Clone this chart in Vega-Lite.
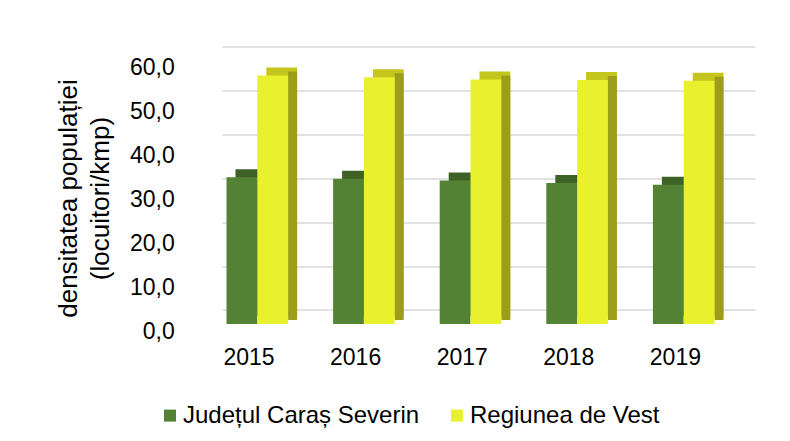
{
  "$schema": "https://vega.github.io/schema/vega-lite/v6.json",
  "autosize": {"type": "none"},
  "width": 533,
  "height": 263.4,
  "padding": {"left": 222, "top": 46.6, "right": 35, "bottom": 131},
  "background": "white",
  "config": {"view": {"stroke": null}, "font": "Liberation Sans"},
  "data": {
    "values": [
      {"year": "2015", "series": "Județul Caraș Severin", "value": 33.4},
      {"year": "2016", "series": "Județul Caraș Severin", "value": 33.1},
      {"year": "2017", "series": "Județul Caraș Severin", "value": 32.7},
      {"year": "2018", "series": "Județul Caraș Severin", "value": 32.1},
      {"year": "2019", "series": "Județul Caraș Severin", "value": 31.7},
      {"year": "2015", "series": "Regiunea de Vest", "value": 56.6},
      {"year": "2016", "series": "Regiunea de Vest", "value": 56.2},
      {"year": "2017", "series": "Regiunea de Vest", "value": 55.7},
      {"year": "2018", "series": "Regiunea de Vest", "value": 55.6},
      {"year": "2019", "series": "Regiunea de Vest", "value": 55.4}
    ]
  },
  "encoding": {
    "x": {
      "field": "year",
      "type": "nominal",
      "scale": {"paddingInner": 0.422, "paddingOuter": 0.211, "align": 0.1},
      "axis": {
        "title": null,
        "labelAngle": 0,
        "labelFontSize": 23,
        "labelColor": "#000000",
        "ticks": false,
        "domain": false,
        "grid": false,
        "labelPadding": 36,
        "labelOffset": -8.3
      }
    },
    "y": {
      "field": "value",
      "type": "quantitative",
      "scale": {"domain": [0, 60]},
      "axis": {
        "title": ["densitatea populației", "(locuitori/kmp)"],
        "values": [0, 10, 20, 30, 40, 50, 60],
        "labelExpr": "replace(format(datum.value, '.1f'), '.', ',')",
        "grid": true,
        "gridColor": "#d9d9d9",
        "gridWidth": 1.5,
        "ticks": false,
        "domain": false,
        "labelPadding": 47.7,
        "labelOffset": 21,
        "labelFontSize": 23,
        "labelColor": "#000000",
        "titleFontSize": 26,
        "titleFontWeight": "normal",
        "titleColor": "#000000",
        "titleX": -141,
        "titleY": 151.4,
        "titleAngle": 270,
        "titleBaseline": "bottom",
        "titleAlign": "center",
        "titleLineHeight": 32
      }
    }
  },
  "layer": [
    {
      "transform": [{"filter": "datum.series === 'Județul Caraș Severin'"}],
      "mark": {"type": "bar", "width": 30.8, "xOffset": -6.4, "yOffset": 6, "y2Offset": 6, "fill": "#3e6226"}
    },
    {
      "transform": [{"filter": "datum.series === 'Regiunea de Vest'"}],
      "mark": {"type": "bar", "width": 30.8, "xOffset": 24.4, "yOffset": 6, "y2Offset": 6, "fill": "#c4c51d"}
    },
    {
      "transform": [{"filter": "datum.series === 'Regiunea de Vest'"}],
      "mark": {"type": "bar", "width": 9, "xOffset": 35.3, "yOffset": 10, "y2Offset": 6, "fill": "#9c9d1b"}
    },
    {
      "transform": [{"filter": "datum.series === 'Județul Caraș Severin'"}],
      "mark": {"type": "bar", "width": 30.8, "xOffset": -15.4, "yOffset": 14, "y2Offset": 14},
      "encoding": {
        "color": {
          "field": "series",
          "type": "nominal",
          "scale": {"domain": ["Județul Caraș Severin", "Regiunea de Vest"], "range": ["#548235", "#e9f02d"]},
          "legend": {
            "orient": "none",
            "legendX": -64,
            "legendY": 357,
            "direction": "horizontal",
            "title": null,
            "symbolType": "square",
            "symbolSize": 144,
            "symbolStrokeWidth": 0,
            "labelFontSize": 24,
            "labelColor": "#000000",
            "labelOffset": 1,
            "labelLimit": 400,
            "columnPadding": 25
          }
        }
      }
    },
    {
      "transform": [{"filter": "datum.series === 'Regiunea de Vest'"}],
      "mark": {"type": "bar", "width": 30.8, "xOffset": 15.4, "yOffset": 14, "y2Offset": 14},
      "encoding": {
        "color": {"field": "series", "type": "nominal"}
      }
    }
  ]
}
